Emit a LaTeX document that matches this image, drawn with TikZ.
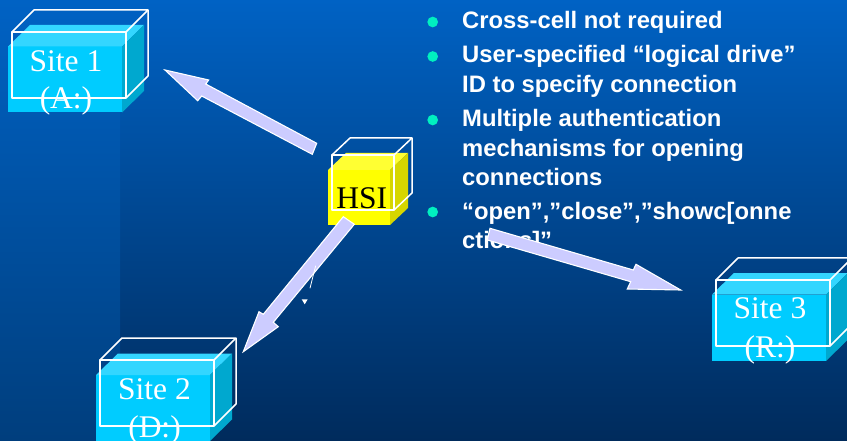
\documentclass[tikz,border=0pt]{standalone}
\usepackage{fontspec}
\setmainfont{Liberation Serif}
\newfontfamily\bulletfont{Liberation Sans}
\definecolor{cubefront}{HTML}{00CCFF}
\definecolor{cubetop}{HTML}{33D6FF}
\definecolor{cubeside}{HTML}{00A8CF}
\definecolor{hsifront}{HTML}{FFFF00}
\definecolor{hsitop}{HTML}{FFFF33}
\definecolor{hsiside}{HTML}{D6D600}
\definecolor{arrowfill}{HTML}{CCCCFF}
\definecolor{dotcolor}{HTML}{00F0C0}
\tikzset{
  wire/.style={draw=white,line width=1.5pt,line join=round},
  blockarrow/.style={fill=arrowfill,draw=white,line width=1.1pt,line join=miter},
  bullettext/.style={text=white,anchor=base west,inner sep=0pt,font=\bulletfont\bfseries\fontsize{23.8}{28}\selectfont},
  dotmark/.style={circle,fill=dotcolor,inner sep=0pt,minimum size=10.7pt},
  sitelabel/.style={text=white,inner sep=0pt,anchor=base,font=\fontsize{31.5}{34}\selectfont},
}
\newcommand{\cubesolid}[9]{
  \fill[#7] (#1,#2) rectangle ++(#3,#4);
  \fill[#8] (#1,#2) -- ++(#5,-#6) -- ++(#3,0) -- ++(-#5,#6) -- cycle;
  \fill[#9] (#1+#3,#2) -- ++(#5,-#6) -- ++(0,#4) -- ++(-#5,#6) -- cycle;
}
\newcommand{\cubewire}[6]{
  \draw[wire] (#1,#2) rectangle ++(#3,#4);
  \draw[wire] (#1,#2) -- ++(#5,-#6) -- ++(#3,0) -- ++(-#5,#6);
  \draw[wire] (#1+#3+#5,#2-#6) -- ++(0,#4) -- ++(-#5,#6);
}
\begin{document}
\begin{tikzpicture}[x=1pt,y=-1pt]
\useasboundingbox (0,0) rectangle (847,441);
\fill[top color={rgb,255:red,0;green,98;blue,196},bottom color={rgb,255:red,0;green,43;blue,92}] (0,0) rectangle (847,441);
\fill[top color={rgb,255:red,0;green,98;blue,196},bottom color={rgb,255:red,0;green,62;blue,125}] (0,0) rectangle (120,441);

\cubesolid{8}{46.5}{114}{66}{22}{21.5}{cubefront}{cubetop}{cubeside}
\cubesolid{96}{375}{114}{66}{22}{21.5}{cubefront}{cubetop}{cubeside}
\cubesolid{712}{294.5}{114}{66.5}{22}{21.5}{cubefront}{cubetop}{cubeside}
\cubesolid{328}{170}{62}{55}{18}{17}{hsifront}{hsitop}{hsiside}

\node[sitelabel] (s1a) at (66,71.5) {Site 1};
\node[sitelabel] (s1b) at (66,109) {(A:)};
\node[sitelabel] (s2a) at (154.5,399) {Site 2};
\node[sitelabel] (s2b) at (154.5,437) {(D:)};
\node[sitelabel] (s3a) at (770,318.5) {Site 3};
\node[sitelabel] (s3b) at (770,357) {(R:)};
\node[sitelabel,text=black] (hsi) at (361.7,208.5) {HSI};

\cubewire{12}{32}{114}{66}{22}{22}
\cubewire{100}{360}{114}{66}{22}{22}
\cubewire{716}{280}{114}{66}{22}{22}
\cubewire{332}{155}{62}{55}{18}{17}

\node[dotmark] (d1) at (432.7,22) {};
\node[dotmark] (d2) at (432.7,56.5) {};
\node[dotmark] (d3) at (432.7,120) {};
\node[dotmark] (d4) at (432.7,212) {};
\node[bullettext] (t1) at (462,29) {Cross-cell not required};
\node[bullettext] (t2) at (462,62.5) {User-specified “logical drive”};
\node[bullettext] (t2b) at (462,92.5) {ID to specify connection};
\node[bullettext] (t3) at (462,127) {Multiple authentication};
\node[bullettext] (t3b) at (462,157) {mechanisms for opening};
\node[bullettext] (t3c) at (462,185.5) {connections};
\node[bullettext] (t4) at (462,219.5) {“open”,”close”,”showc[onne};
\node[bullettext] (t4b) at (462,248.5) {ctions]”};

\draw[blockarrow] (165,70) -- (208.7,80) -- (205.7,84) -- (316.7,143.3) -- (312.3,154.3) -- (201.7,96) -- (197.7,100.7) -- cycle;
\draw[blockarrow] (243.3,351.7) -- (259,311.7) -- (263.3,314.3) -- (343.3,216.7) -- (354.3,224.3) -- (273.3,322.3) -- (278.3,326.7) -- cycle;
\draw[blockarrow] (680.7,290) -- (636,264.3) -- (633.3,270) -- (490,228.3) -- (487.3,240) -- (630.7,281.7) -- (627.3,289) -- cycle;

\draw[white,line width=0.8pt] (315.7,265.7) -- (313.3,275) -- (310,288.3);
\fill[white] (301.7,299.3) -- (307.7,299.3) -- (304.7,304.3) -- cycle;
\end{tikzpicture}
\end{document}
